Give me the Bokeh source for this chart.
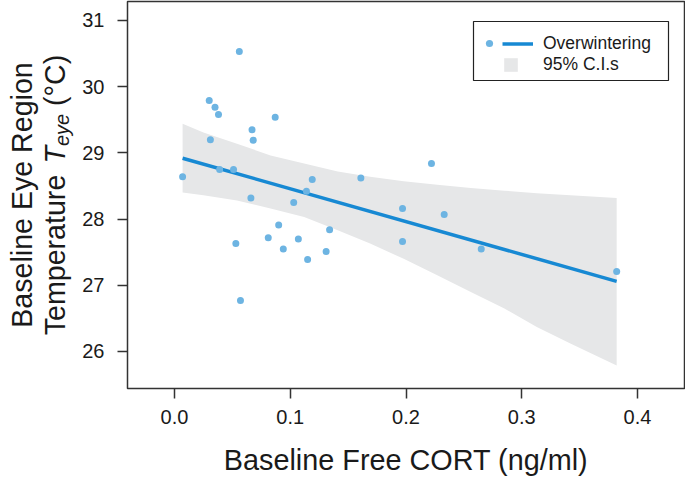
import numpy as np
from bokeh.plotting import figure
from bokeh.layouts import row
from bokeh.models import (Legend, LegendItem, Label, BoxAnnotation, Range1d,
                          FixedTicker, PrintfTickFormatter)
from bokeh.embed import file_html
from bokeh.resources import INLINE

# ---------------- data ----------------
cort = [0.056, 0.030, 0.035, 0.038, 0.087, 0.067, 0.031, 0.068, 0.007, 0.039,
        0.051, 0.119, 0.114, 0.066, 0.103, 0.090, 0.134, 0.053, 0.081, 0.107,
        0.094, 0.131, 0.115, 0.057, 0.161, 0.222, 0.197, 0.233, 0.197, 0.265,
        0.382]
teye = [30.53, 29.79, 29.69, 29.58, 29.54, 29.35, 29.20, 29.19, 28.64, 28.75,
        28.75, 28.60, 28.42, 28.32, 28.25, 27.91, 27.84, 27.63, 27.72, 27.70,
        27.55, 27.51, 27.39, 26.77, 28.62, 28.84, 28.16, 28.07, 27.66, 27.55,
        27.21]
# fitted line (end points) and 95% confidence band
fit_x = [0.007, 0.382]
fit_y = [28.92, 27.06]
ci_x = [0.007, 0.025, 0.054, 0.083, 0.112, 0.141, 0.169, 0.198, 0.227,
        0.256, 0.285, 0.313, 0.342, 0.382]
ci_upper = [29.44, 29.31, 29.14, 28.96, 28.84, 28.72, 28.64, 28.57, 28.52,
            28.47, 28.43, 28.39, 28.36, 28.32]
ci_lower = [28.40, 28.36, 28.28, 28.16, 28.03, 27.83, 27.63, 27.40, 27.15,
            26.90, 26.65, 26.37, 26.12, 25.79]
x_ticks = [0.0, 0.1, 0.2, 0.3, 0.4]
y_ticks = [26, 27, 28, 29, 30, 31]
series_name = "Overwintering"
ci_name = "95% C.I.s"
x_title = "Baseline Free CORT (ng/ml)"
y_title_1 = "Baseline Eye Region"
y_title_2 = ["Temperature", "T", "eye", "(\u00b0C)"]

# ---------------- layout (page pixels) ----------------
TW = 78                     # width of the strip holding the y title
W, H = 685, 481
FL, FR, FT, FB = 127, 684, 1, 388
XMIN, XMAX = -0.0406, 0.4406
YMIN, YMAX = 25.441, 31.287


def cx2x(px):
    return XMIN + (px - FL) / (FR - FL) * (XMAX - XMIN)


def cy2y(py):
    return YMAX - (py - FT) / (FB - FT) * (YMAX - YMIN)


FONT = "Liberation Sans"
TXT = "#1a1a1a"
AX = "#333333"

p = figure(width=W - TW, height=H, output_backend="svg", toolbar_location=None,
           x_range=Range1d(XMIN, XMAX), y_range=Range1d(YMIN, YMAX),
           min_border_left=FL - TW, min_border_right=W - FR, min_border_top=FT,
           min_border_bottom=H - FB)
p.outline_line_color = AX
p.outline_line_width = 1.5
p.grid.visible = False

band = p.varea(x=ci_x, y1=ci_lower, y2=ci_upper, fill_color="#e6e7e8")
ln = p.line(x=fit_x, y=fit_y, line_color="#1789d3", line_width=3.5)
sc = p.scatter(x=cort, y=teye, size=7, fill_color="#6db4e2", line_color=None)

for ax in (p.xaxis[0], p.yaxis[0]):
    ax.axis_line_color = None
    ax.major_tick_line_color = AX
    ax.major_tick_line_width = 1.5
    ax.major_tick_out = 10
    ax.major_tick_in = 0
    ax.minor_tick_line_color = None
    ax.major_label_text_font = FONT
    ax.major_label_text_font_size = "20px"
    ax.major_label_text_color = TXT

p.xaxis.ticker = FixedTicker(ticks=x_ticks)
p.xaxis.formatter = PrintfTickFormatter(format="%.1f")
p.xaxis.major_label_standoff = 11
p.xaxis.axis_label = x_title
p.xaxis.axis_label_text_font = FONT
p.xaxis.axis_label_text_font_size = "28.8px"
p.xaxis.axis_label_text_font_style = "normal"
p.xaxis.axis_label_text_color = TXT
p.xaxis.axis_label_standoff = 17

p.yaxis.ticker = FixedTicker(ticks=y_ticks)
p.yaxis.formatter = PrintfTickFormatter(format="%d")
p.yaxis.major_label_standoff = 13

# ---------------- y title strip (labels, for the italic subscript) ----------------
# the row aligns this strip's frame with the main frame (page y FT..FB),
# so its y range is set so that data y = H - page y
pt = figure(width=TW, height=H, output_backend="svg", toolbar_location=None,
            x_range=Range1d(0, TW), y_range=Range1d(H - FB, H - FT),
            x_axis_location=None, y_axis_location=None,
            min_border_left=0, min_border_right=0, min_border_top=FT,
            min_border_bottom=H - FB)
pt.outline_line_color = None
pt.grid.visible = False

ADV = {"T": 611, "e": 556, "m": 833, "p": 556, "r": 333, "a": 556, "t": 278,
       "u": 556, " ": 278, "(": 333, ")": 333, "\u00b0": 400, "C": 722, "y": 500}


def tw(txt, size):
    return sum(ADV.get(c, 556) for c in txt) / 1000.0 * size


TS = 28.6
SUB = 20
YC = (FT + FB) / 2.0
pt.add_layout(Label(x=21, y=H - YC, text=y_title_1, angle=np.pi / 2,
                    text_align="center", text_baseline="alphabetic",
                    text_font=FONT, text_font_size=f"{TS}px", text_color=TXT))
sizes = [TS, TS, SUB, TS]
styles = ["normal", "italic", "italic", "normal"]
basel = [54.5, 54.5, 61, 54.5]
gaps_before = [0, 1, 0, 1]          # word spaces (in spaces of the main size)
space = tw(" ", TS)
total = sum(tw(t, s_) for t, s_ in zip(y_title_2, sizes)) + space * sum(gaps_before)
cur = YC + total / 2
for t, s_, st, bx, g in zip(y_title_2, sizes, styles, basel, gaps_before):
    cur -= g * space
    pt.add_layout(Label(x=bx, y=H - cur, text=t, angle=np.pi / 2,
                        text_align="left", text_baseline="alphabetic",
                        text_font=FONT, text_font_size=f"{s_}px",
                        text_font_style=st, text_color=TXT))
    cur -= tw(t, s_)

# ---------------- legend ----------------
box = BoxAnnotation(left=cx2x(473), right=cx2x(668), top=cy2y(21), bottom=cy2y(80),
                    fill_color="white", fill_alpha=1.0, line_color="#222222",
                    line_width=1.2, line_alpha=1.0)
p.add_layout(box)


def mk_legend(items, px_left, py_bottom, gw, gh, lh, standoff, fs="17.5px"):
    lg = Legend(items=items,
                location=(int(round(px_left - FL)), int(round(FB - py_bottom))),
                orientation="vertical",
                glyph_width=gw, glyph_height=gh, label_height=lh,
                label_standoff=standoff, padding=0, margin=0, spacing=0,
                border_line_color=None, background_fill_alpha=0.0,
                label_text_font=FONT, label_text_font_size=fs,
                label_text_color=TXT)
    p.add_layout(lg)
    return lg


# dot of the series
mk_legend([LegendItem(label=" ", renderers=[sc])], 480, 52, 18, 18, 18, 0, "8px")
# line + series name
mk_legend([LegendItem(label=series_name, renderers=[ln])], 502, 54, 31, 21, 21, 10)
# band square + CI label
mk_legend([LegendItem(label=ci_name, renderers=[band])], 502, 75, 17, 17, 17, 24)

layout = row(pt, p)
open("out.html", "w").write(file_html(layout, INLINE))
